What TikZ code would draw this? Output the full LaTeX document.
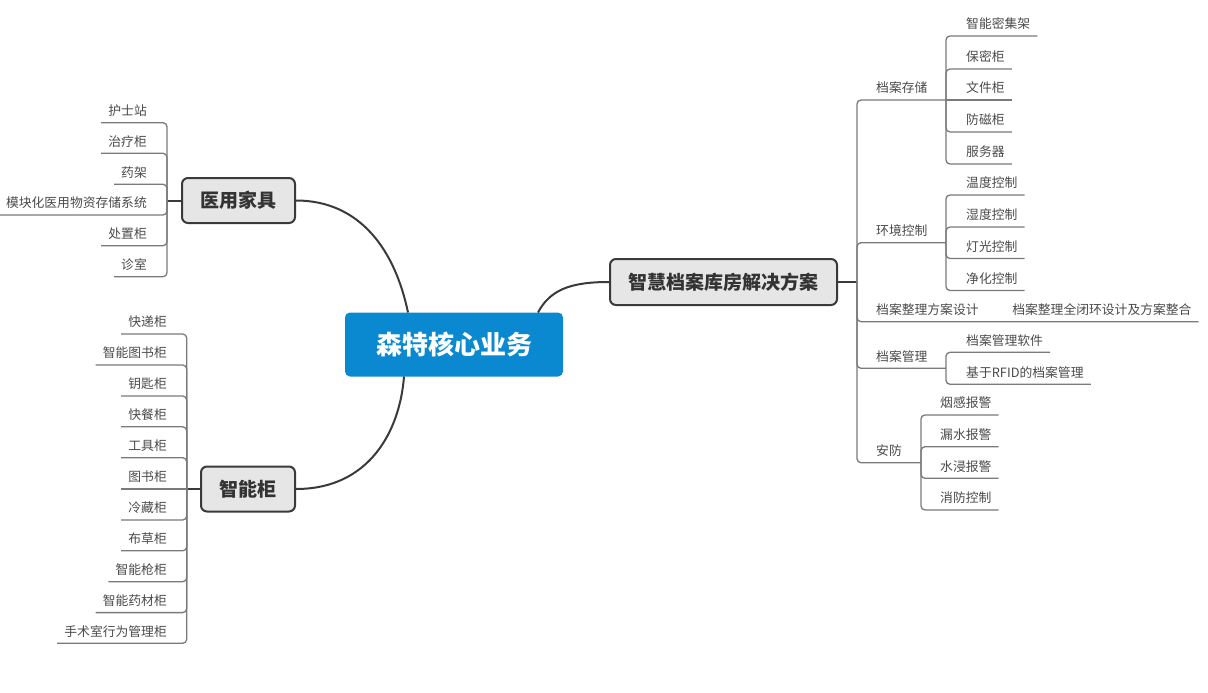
\documentclass[tikz,border=0pt]{standalone}
\usepackage{fontspec}
\setmainfont{Noto Sans CJK SC}
\definecolor{rootblue}{HTML}{0A88D0}
\definecolor{topicfill}{HTML}{E6E6E6}
\definecolor{topicline}{HTML}{3A3A3A}
\definecolor{curvecol}{HTML}{3A3A3A}
\definecolor{branchcol}{HTML}{7A7A7A}
\definecolor{leaftext}{HTML}{4A4A4A}
\definecolor{topictext}{HTML}{333333}
\begin{document}
\begin{tikzpicture}[x=1pt,y=-1pt,
 root/.style={fill=rootblue, rounded corners=5pt, text=white, font=\bfseries\fontsize{26}{30}\selectfont, minimum width=218pt, minimum height=64pt, inner sep=0pt},
 topic/.style={fill=topicfill, draw=topicline, line width=2pt, rounded corners=6pt, text=topictext, font=\bfseries\fontsize{19}{22}\selectfont, inner sep=0pt},
 leaf/.style={inner sep=7pt, text height=10pt, text depth=0pt, text=leaftext, font=\fontsize{12.8}{14}\selectfont},
 lleaf/.style={leaf, anchor=south east},
 rleaf/.style={leaf, anchor=south west},
 curve/.style={line width=2pt, draw=curvecol},
 branch/.style={line width=1.3pt, draw=branchcol, rounded corners=4pt},
 stub/.style={line width=2pt, draw=curvecol},
]
\useasboundingbox (0,0) rectangle (1208,693);

% main nodes
\node[root] (root) at (454,344.5) {森特核心业务};
\node[topic, minimum width=227pt, minimum height=46pt] (rn) at (723.5,282) {智慧档案库房解决方案};
\node[topic, minimum width=113pt, minimum height=45pt] (m1) at (238.5,200.5) {医用家具};
\node[topic, minimum width=94pt, minimum height=45pt] (m2) at (248,489) {智能柜};

% main curves
\draw[curve] (m1.east) .. controls (360,200.5) and (395,250) .. (408,312.5);
\draw[curve] (m2.east) .. controls (370,489) and (400,430) .. (404,376.5);
\draw[curve] (538,312.5) .. controls (550,290) and (570,282) .. (rn.west);

% junctions
\coordinate (jL1) at (167,200.5);
\coordinate (jL2) at (186.7,489);
\coordinate (jR) at (857,282);
\draw[stub] (m1.west) -- (jL1);
\draw[stub] (m2.west) -- (jL2);
\draw[stub] (rn.east) -- (jR);

% left group 1
\node[lleaf] (a1) at (154,122.7) {护士站};
\node[lleaf] (a2) at (154,153.3) {治疗柜};
\node[lleaf] (a3) at (154,184.3) {药架};
\node[lleaf] (a4) at (154,215) {模块化医用物资存储系统};
\node[lleaf] (a5) at (154,245.7) {处置柜};
\node[lleaf] (a6) at (154,276.7) {诊室};
\foreach \n in {a1,a2,a3,a4,a5,a6} \draw[branch] (jL1) |- (\n.south west);

% left group 2
\node[lleaf] (b1) at (174,334) {快递柜};
\node[lleaf] (b2) at (174,365) {智能图书柜};
\node[lleaf] (b3) at (174,396) {钥匙柜};
\node[lleaf] (b4) at (174,426.8) {快餐柜};
\node[lleaf] (b5) at (174,457.7) {工具柜};
\node[lleaf] (b6) at (174,489) {图书柜};
\node[lleaf] (b7) at (174,520) {冷藏柜};
\node[lleaf] (b8) at (174,550.8) {布草柜};
\node[lleaf] (b9) at (174,581.7) {智能枪柜};
\node[lleaf] (b10) at (174,612.6) {智能药材柜};
\node[lleaf] (b11) at (174,643.3) {手术室行为管理柜};
\foreach \n in {b1,b2,b3,b4,b5,b7,b8,b9,b10,b11} \draw[branch] (jL2) |- (\n.south west);
\draw[branch] (jL2) -- (b6.south west);

% right level 2
\coordinate (j1) at (946,100);
\coordinate (j2) at (946,242.7);
\coordinate (j4) at (946,368.3);
\coordinate (j5) at (921,462.7);
\node[rleaf] (r1) at (869,100) {档案存储};
\node[rleaf] (r2) at (869,242.7) {环境控制};
\node[rleaf] (r3) at (869,321.7) {档案整理方案设计};
\node[rleaf] (r4) at (869,368.3) {档案管理};
\node[rleaf] (r5) at (869,462.7) {安防};
\node[leaf, anchor=south east] (r3a) at (1198.7,321.7) {档案整理全闭环设计及方案整合};
\draw[branch] (jR) |- (j1);
\draw[branch] (jR) |- (j2);
\draw[branch] (jR) |- (r3a.south east);
\draw[branch] (jR) |- (j4);
\draw[branch] (jR) |- (j5);

% 档案存储 children
\node[rleaf] (s1) at (959,36) {智能密集架};
\node[rleaf] (s2) at (959,69) {保密柜};
\node[rleaf] (s3) at (959,100) {文件柜};
\node[rleaf] (s4) at (959,132) {防磁柜};
\node[rleaf] (s5) at (959,164) {服务器};
\foreach \n in {s1,s2,s4,s5} \draw[branch] (j1) |- (\n.south east);
\draw[branch] (j1) -- (s3.south east);

% 环境控制 children
\node[rleaf] (e1) at (959,195) {温度控制};
\node[rleaf] (e2) at (959,227) {湿度控制};
\node[rleaf] (e3) at (959,258.5) {灯光控制};
\node[rleaf] (e4) at (959,290.5) {净化控制};
\foreach \n in {e1,e2,e3,e4} \draw[branch] (j2) |- (\n.south east);

% 档案管理 children
\node[rleaf] (g1) at (959,352.3) {档案管理软件};
\node[rleaf] (g2) at (959,384.3) {基于RFID的档案管理};
\foreach \n in {g1,g2} \draw[branch] (j4) |- (\n.south east);

% 安防 children
\node[rleaf] (f1) at (933,415) {烟感报警};
\node[rleaf] (f2) at (933,446.7) {漏水报警};
\node[rleaf] (f3) at (933,478.3) {水浸报警};
\node[rleaf] (f4) at (933,510) {消防控制};
\foreach \n in {f1,f2,f3,f4} \draw[branch] (j5) |- (\n.south east);
\end{tikzpicture}
\end{document}
